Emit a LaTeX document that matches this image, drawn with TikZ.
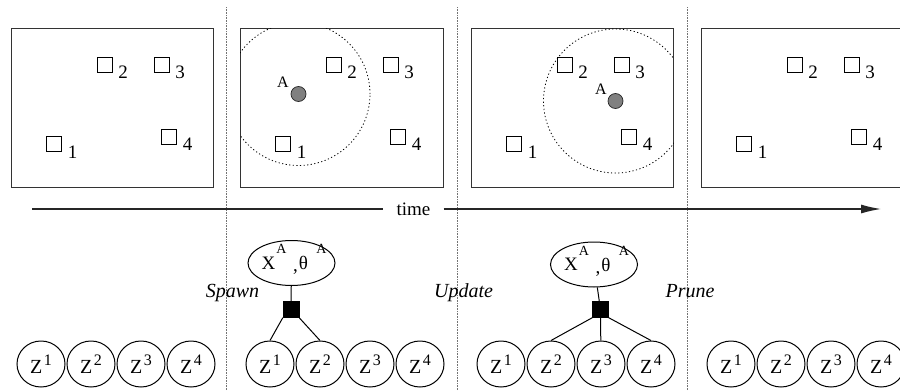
\documentclass[tikz,border=0pt]{standalone}
\usepackage{fontspec}
\setmainfont{Liberation Serif}
\usetikzlibrary{shapes.geometric,arrows.meta,calc}
\newcommand\myfs[1]{\fontsize{#1}{#1}\selectfont}
\begin{document}
\begin{tikzpicture}[x=1pt,y=-1pt,
  panelbox/.style={draw=black!80, line width=0.9pt, minimum height=159pt, inner sep=0pt, anchor=north west},
  sqbox/.style={draw=black, line width=1pt, minimum size=15pt, inner sep=0pt},
  idx/.style={font=\myfs{19}, inner sep=0pt},
  agent/.style={circle, draw=black!85, fill=black!50, line width=0.7pt, minimum size=15pt, inner sep=0pt},
  alab/.style={font=\myfs{16}, inner sep=0pt},
  rangecirc/.style={draw=black, line width=0.8pt, dash pattern=on 1.2pt off 2.4pt},
  divider/.style={draw=black!55, line width=0.8pt, dash pattern=on 0.8pt off 0.8pt},
  zvar/.style={ellipse, draw=black, line width=1pt, minimum width=48pt, minimum height=46pt, inner sep=0pt},
  xvar/.style={ellipse, draw=black, line width=1pt, minimum width=87pt, minimum height=45pt, inner sep=0pt},
  xtxt/.style={font=\myfs{19}, inner sep=0pt},
  xsup/.style={font=\myfs{14}, inner sep=0pt},
  factor/.style={rectangle, fill=black, draw=black, minimum size=16pt, inner sep=0pt},
  conn/.style={draw=black, line width=1pt},
  timeline/.style={draw=black!85, line width=1.2pt},
  stage/.style={font=\myfs{20}\itshape, inner sep=0pt, anchor=base},
]
\clip (0,0) rectangle (900,391);

% dividers
\draw[divider] (226,7) -- (226,391);
\draw[divider] (457,7) -- (457,391);
\draw[divider] (687,7) -- (687,391);

% panels and variable rows
\foreach \i/\ox/\w in {1/11/202, 2/240/203, 3/471/202, 4/701/230} {
  \node[panelbox, minimum width=\w pt] (panel\i) at (\ox,28) {};
  \node[sqbox] (sq\i-1) at ({\ox+43},144) {};
  \node[sqbox] (sq\i-2) at ({\ox+93.5},64.5) {};
  \node[sqbox] (sq\i-3) at ({\ox+150.5},64.5) {};
  \node[sqbox] (sq\i-4) at ({\ox+158},136.5) {};
  \foreach \k in {1,...,4}
    \node[idx] (lab\i-\k) at ($(sq\i-\k)+(18.5,8)$) {\k};
  \foreach \k in {1,...,4}
    \node[zvar] (z\i-\k) at ({\ox+30+50*(\k-1)},364) {\myfs{20}Z\hspace{1.5pt}\raisebox{8pt}{\myfs{16}\k}};
}

% agent A in panel 2
\node[agent] (ag2) at (298.5,94) {};
\node[alab] (ag2lab) at ($(ag2)+(-15.5,-11.5)$) {A};
\begin{scope}
  \clip (panel2.north west) rectangle (panel2.south east);
  \draw[rangecirc] (ag2) circle[radius=71.5pt];
\end{scope}

% agent A in panel 3
\node[agent] (ag3) at (615.5,101) {};
\node[alab] (ag3lab) at ($(ag3)+(-14.5,-12)$) {A};
\begin{scope}
  \clip (panel3.north west) rectangle (panel3.south east);
  \draw[rangecirc] (ag3) circle[radius=72pt];
\end{scope}

% time axis
\coordinate (tstart) at (32,209);
\coordinate (tend) at (881,209);
\node[font=\myfs{19}, inner xsep=13pt, inner ysep=2pt] (time) at (413.5,209) {time};
\draw[timeline] (tstart) -- (time.west);
\draw[timeline, -{Latex[length=20pt,width=9pt]}] (time.east) -- (tend);

% stage labels
\node[stage] (spawn) at (232.5,297) {Spawn};
\node[stage] (update) at (463.5,297) {Update};
\node[stage] (prune) at (690,297) {Prune};

% graphical model, spawn
\node[xvar] (x2) at (291.5,263) {};
\node[xtxt] (x2X) at ($(x2)+(-23,0)$) {X};
\node[xsup] (x2A) at ($(x2)+(-10,-14)$) {A};
\node[xtxt] (x2c) at ($(x2)+(4,9)$) {,};
\node[xtxt] (x2t) at ($(x2)+(12,0)$) {θ};
\node[xsup] (x2B) at ($(x2)+(30,-14)$) {A};
\node[factor] (f2) at (291,309.5) {};
\draw[conn] (x2) -- (f2);
\draw[conn] (f2.south west) -- (z2-1.north);
\draw[conn] (f2.south east) -- (z2-2.north);

% graphical model, update
\node[xvar] (x3) at (594,264.5) {};
\node[xtxt] (x3X) at ($(x3)+(-23,0)$) {X};
\node[xsup] (x3A) at ($(x3)+(-10,-14)$) {A};
\node[xtxt] (x3c) at ($(x3)+(4,9)$) {,};
\node[xtxt] (x3t) at ($(x3)+(12,0)$) {θ};
\node[xsup] (x3B) at ($(x3)+(30,-14)$) {A};
\node[factor] (f3) at (600.5,309.5) {};
\draw[conn] (x3) -- (f3);
\draw[conn] (f3.south west) -- (z3-2.north);
\draw[conn] (f3) -- (z3-3);
\draw[conn] (f3.south east) -- (z3-4.north);
\end{tikzpicture}
\end{document}
